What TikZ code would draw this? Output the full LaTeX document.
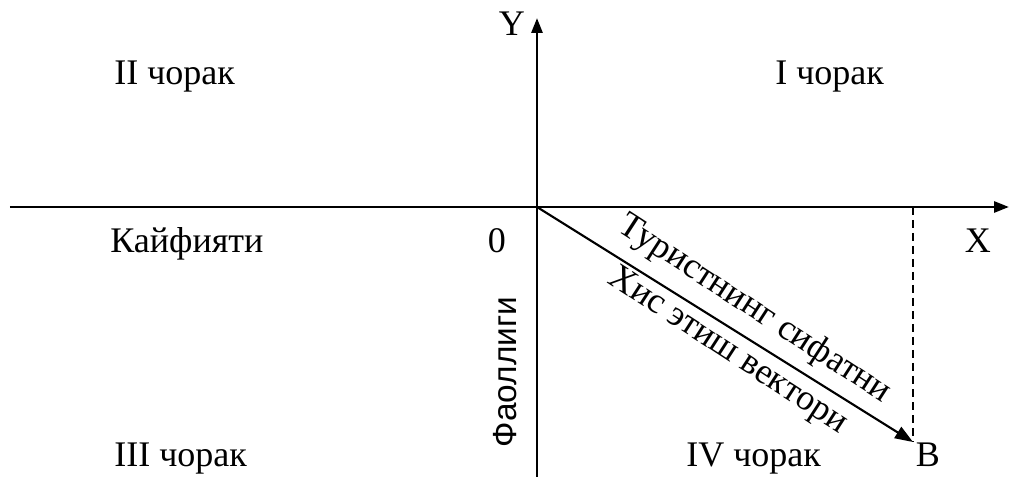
\documentclass[tikz,border=0pt]{standalone}
\usepackage{fontspec}
\setmainfont{Liberation Serif}
\newfontfamily\arialfont{Liberation Sans}
\usetikzlibrary{arrows.meta, positioning}

\tikzset{
  axis/.style={line width=1.6pt, -{Triangle[length=0.3cm, width=0.22cm]}},
  vec/.style={line width=1.2pt, -{Triangle[length=0.36cm, width=0.26cm]}},
  lbl/.style={font=\fontsize{20.5}{25}\selectfont, inner sep=0pt, anchor=base west},
}

\begin{document}
\begin{tikzpicture}
  \useasboundingbox (-10.74,-5.4) rectangle (9.44,4.14);

  % axes
  \coordinate (O) at (0,0);
  \coordinate (xl) at (-10.54,0);
  \coordinate (xr) at (9.44,0);
  \coordinate (yb) at (0,-5.4);
  \coordinate (yt) at (0,3.78);
  \draw[axis] (xl) -- (xr);
  \draw[axis] (yb) -- (yt);

  % vector to B
  \coordinate (B) at (7.52,-4.7);
  \coordinate (Bx) at (7.52,0);
  \draw[line width=0.8pt, dash pattern=on 0.16cm off 0.1cm] (Bx) -- (B);
  \draw[vec] (O) -- (B);
  \node[font=\fontsize{20.5}{28}\selectfont, align=center, rotate=-33] (vlabel) at (4.08,-2.46)
    {Туристнинг сифатни\\Хис этиш вектори};

  % axis labels
  \node[lbl, anchor=base] (ylabel) at (-0.5,3.42) {Y};
  \node[lbl, anchor=base] (xlabel) at (8.82,-0.92) {X};
  \node[lbl, anchor=base] (zero) at (-0.8,-0.92) {0};
  \node[lbl, anchor=base] (blabel) at (7.82,-5.2) {B};
  \node[lbl] (kayf) at (-8.54,-0.92) {Кайфияти};
  \node[font=\arialfont\fontsize{19}{23}\selectfont, rotate=90, inner sep=0pt] (faol) at (-0.64,-3.3) {Фаоллиги};

  % quadrants
  \node[lbl] (q2) at (-8.46,2.44) {II чорак};
  \node[lbl] (q1) at (4.76,2.44) {I чорак};
  \node[lbl] (q3) at (-8.46,-5.2) {III чорак};
  \node[lbl] (q4) at (2.98,-5.2) {IV чорак};
\end{tikzpicture}
\end{document}
